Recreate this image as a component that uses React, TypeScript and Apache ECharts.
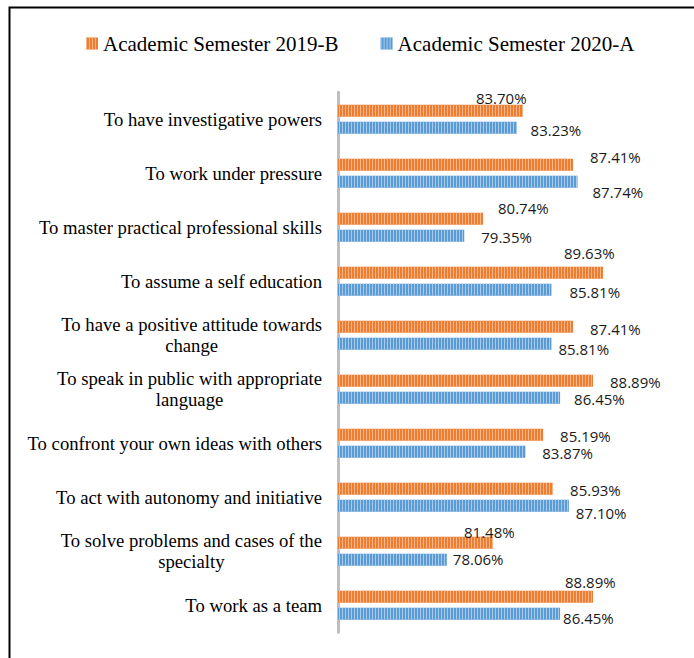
import React, { useEffect, useRef } from "react";
import * as echarts from "echarts";

const categories = [
  "To have investigative powers",
  "To work under pressure",
  "To master practical professional skills",
  "To assume a self education",
  "To have a positive attitude towards\nchange",
  "To speak in public with appropriate\nlanguage",
  "To confront your own ideas with others",
  "To act with autonomy and initiative",
  "To solve problems and cases of the\nspecialty",
  "To work as a team",
];

const seriesNames = ["Academic Semester 2019-B", "Academic Semester 2020-A"];

const semester2019B = [83.7, 87.41, 80.74, 89.63, 87.41, 88.89, 85.19, 85.93, 81.48, 88.89];
const semester2020A = [83.23, 87.74, 79.35, 85.81, 85.81, 86.45, 83.87, 87.1, 78.06, 86.45];

const axisMin = 70;
const axisMax = 90;

// label placement tweaks (style only), [dx, dy] per bar
const orangeLabelShift = [
  [-47, -12.5], [17, -8], [15, -11], [-39, -20], [17, 2],
  [17, 1], [17, 1], [17, 1], [-29, -11], [-28, -15],
];
const blueLabelShift = [
  [14, 2.5], [15, 10], [17, 1], [18, 2], [7, 5],
  [14, 1], [17, 1], [7, 7], [6, -1], [3, 4],
];

const SERIF = "'Liberation Serif', 'Times New Roman', serif";
const SANS = "'Open Sans', 'Liberation Sans', sans-serif";

export default function App() {
  const ref = useRef<HTMLDivElement>(null);

  useEffect(() => {
    if (!ref.current) return;
    const chart = echarts.init(ref.current, undefined, { renderer: "svg" });

    const mkData = (vals: number[], shifts: number[][]) =>
      vals.map((v, i) => ({ value: v, label: { offset: shifts[i] } }));

    const labelCfg = {
      show: true,
      position: "right",
      distance: 0,
      fontFamily: SANS,
      fontSize: 15,
      color: "#1a1a1a",
      formatter: (p: any) => p.value.toFixed(2) + "%",
    };

    const option: any = {
      animation: false,
      backgroundColor: "#fff",
      graphic: [
        {
          type: "rect",
          shape: { x: 9.5, y: 7.5, width: 900, height: 900 },
          style: { fill: "none", stroke: "#000", lineWidth: 2 },
          silent: true,
        },
      ],
      legend: {
        top: 33,
        left: 86,
        padding: 0,
        itemWidth: 12,
        itemHeight: 12,
        itemGap: 42,
        icon: "rect",
        textStyle: { fontFamily: SERIF, fontSize: 21, color: "#000" },
        data: seriesNames,
      },
      grid: { left: 338, right: 86, top: 92.25, bottom: 25.75, containLabel: false },
      xAxis: {
        type: "value",
        min: axisMin,
        max: axisMax,
        show: false,
        splitLine: { show: false },
      },
      yAxis: {
        type: "category",
        inverse: true,
        data: categories,
        axisTick: { show: false },
        axisLine: { show: true, lineStyle: { color: "#BFBFBF", width: 3 } },
        axisLabel: {
          margin: 16,
          align: "right",
          formatter: (v: string) =>
            v
              .split("\n")
              .map((l) => `{c|${l}}`)
              .join("\n"),
          rich: {
            c: {
              align: "center",
              fontFamily: SERIF,
              fontSize: 18.7,
              lineHeight: 21,
              color: "#000",
            },
          },
        },
      },
      series: [
        {
          name: seriesNames[0],
          type: "bar",
          barWidth: 12,
          barGap: "42%",
          itemStyle: {
            color: "#ED7D31",
            decal: {
              symbol: "rect",
              symbolSize: 1,
              color: "#F6B68A",
              dashArrayX: [1, 2],
              dashArrayY: [10, 0],
              rotation: 0,
            },
          },
          label: labelCfg,
          data: mkData(semester2019B, orangeLabelShift),
        },
        {
          name: seriesNames[1],
          type: "bar",
          barWidth: 12,
          barGap: "42%",
          itemStyle: {
            color: "#5B9BD5",
            decal: {
              symbol: "rect",
              symbolSize: 1,
              color: "#A9CBEA",
              dashArrayX: [1, 2],
              dashArrayY: [10, 0],
              rotation: 0,
            },
          },
          label: labelCfg,
          data: mkData(semester2020A, blueLabelShift),
        },
      ],
    };

    chart.setOption(option);
    return () => chart.dispose();
  }, []);

  return (
    <div
      ref={ref}
      style={{ position: "fixed", left: 0, top: 0, width: 694, height: 658 }}
    />
  );
}
